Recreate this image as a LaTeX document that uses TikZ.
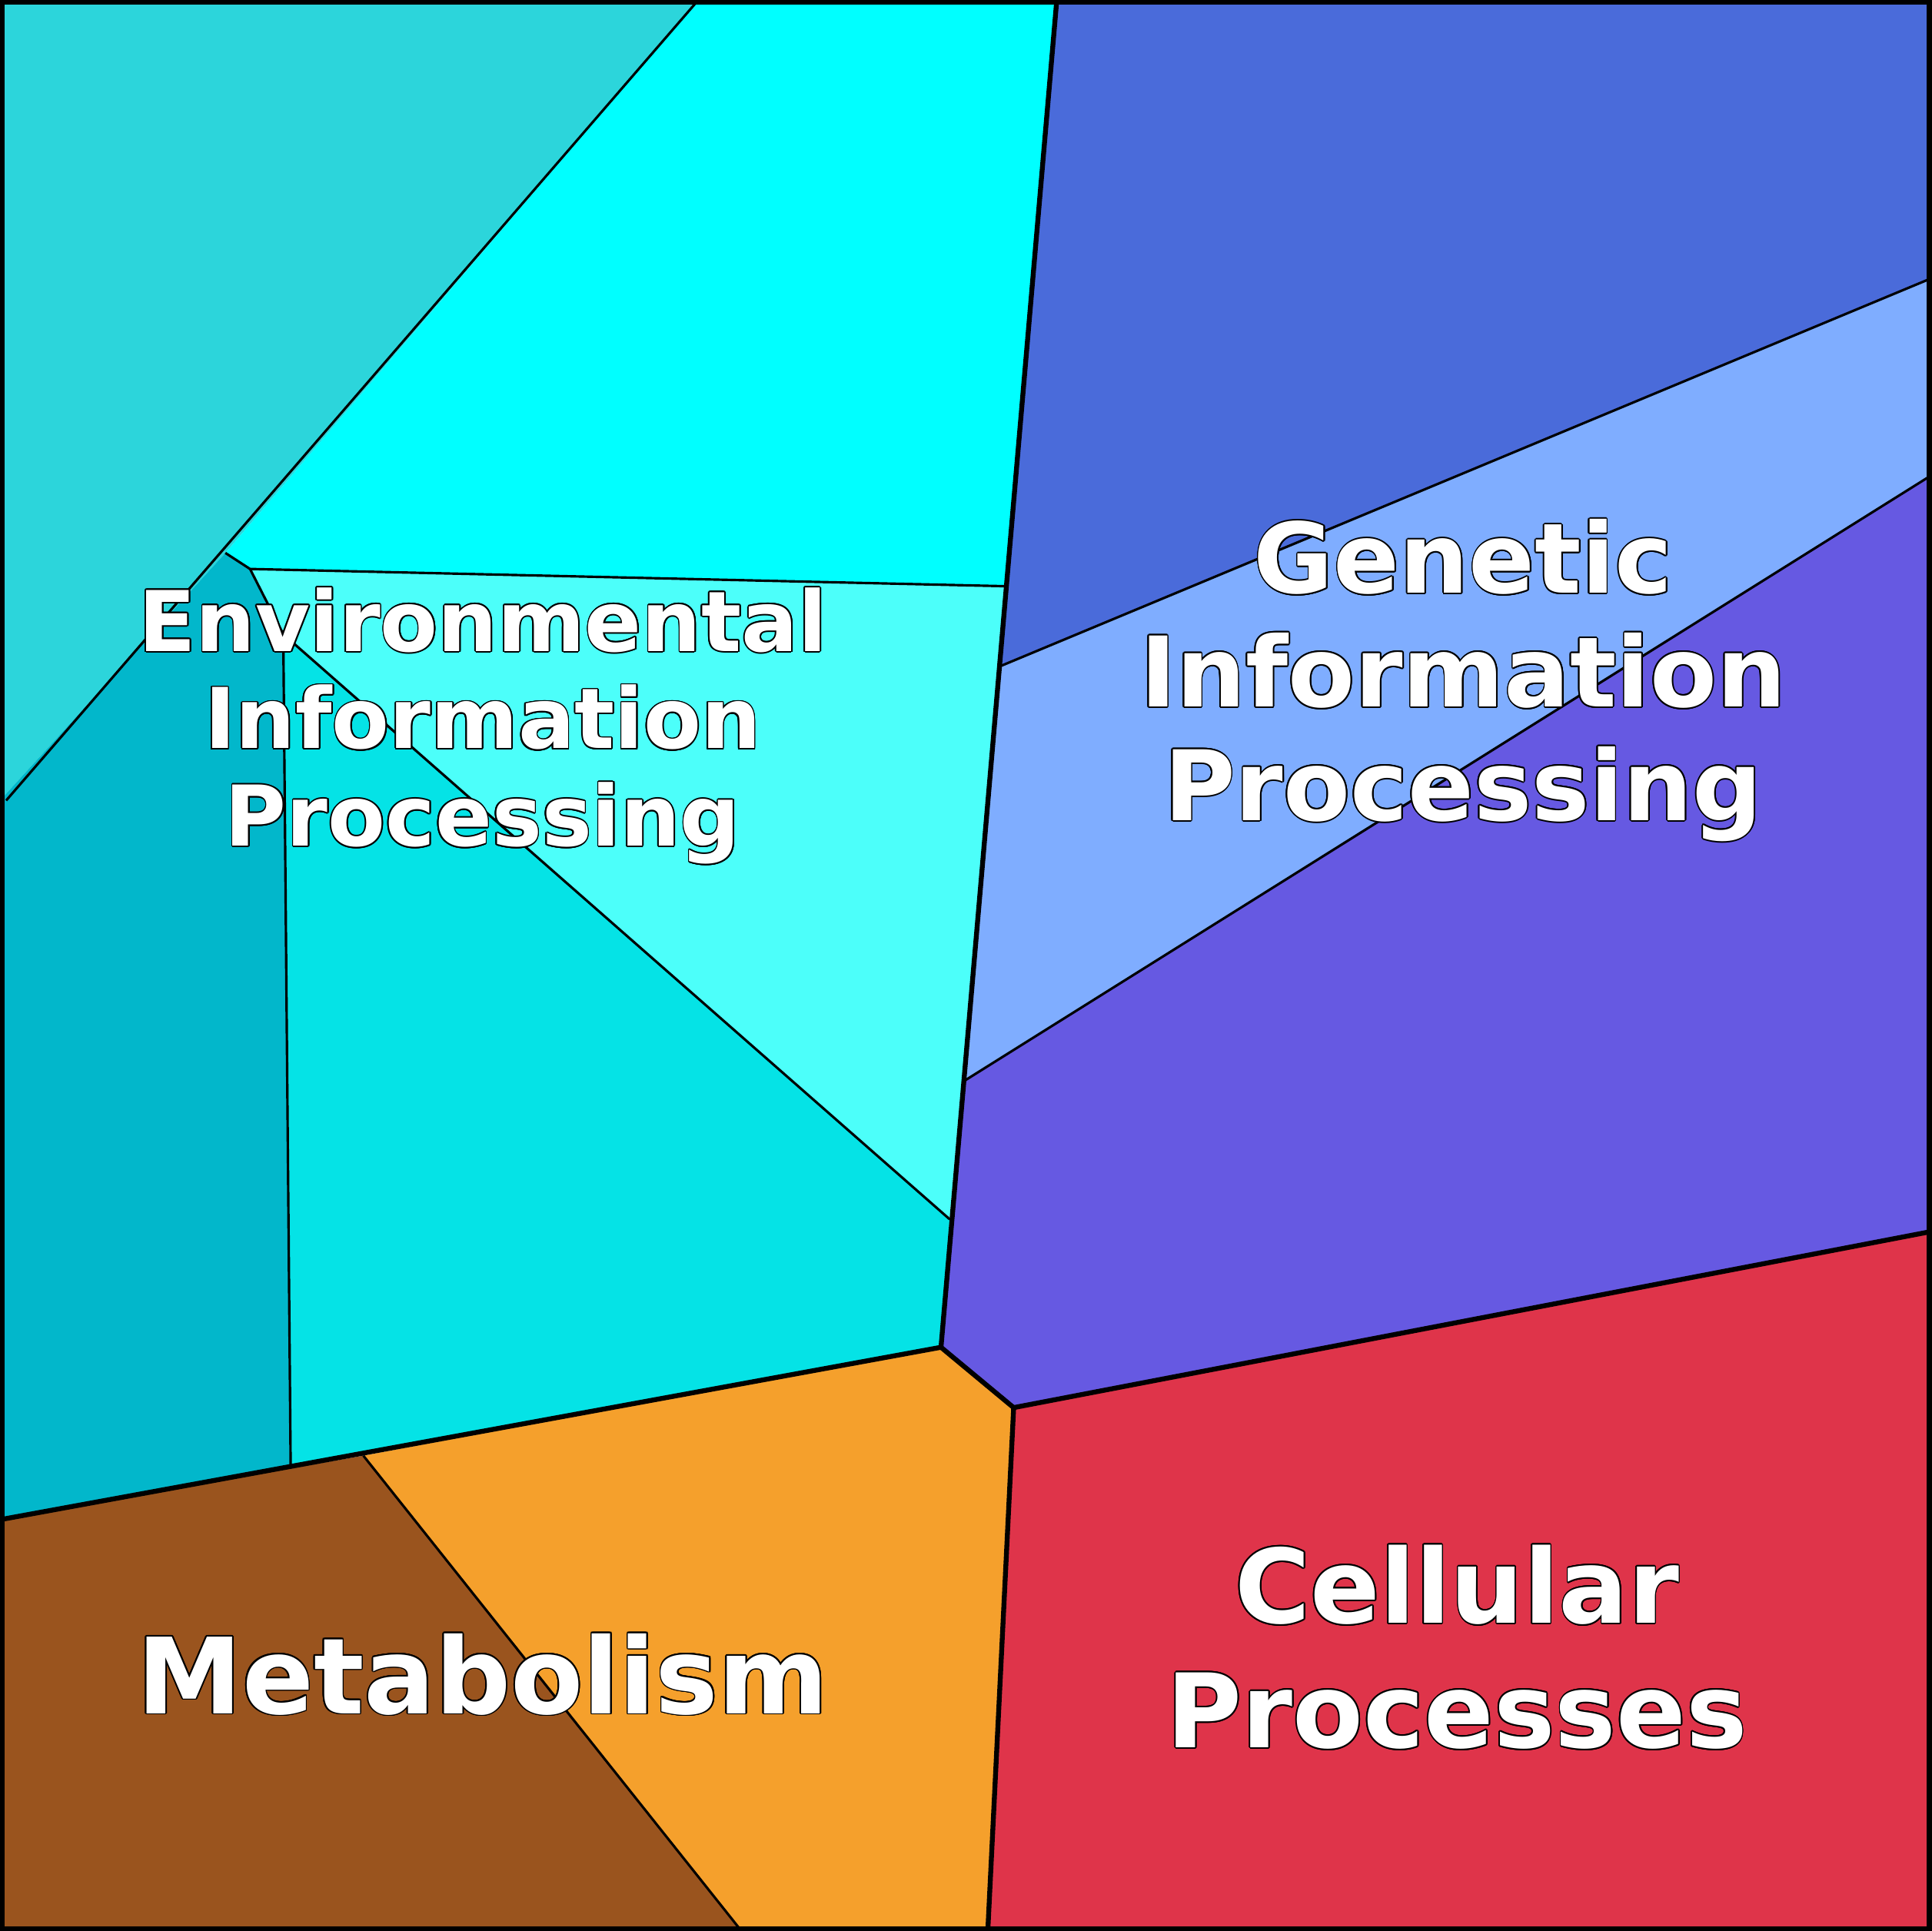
\documentclass[tikz,border=0pt]{standalone}
\usepackage{fontspec}
\setmainfont{DejaVu Sans}
\usepackage{contour}
\contourlength{0.5pt}
\definecolor{envA}{RGB}{44,213,219}
\definecolor{envB}{RGB}{0,255,255}
\definecolor{envC}{RGB}{76,255,250}
\definecolor{envD}{RGB}{2,183,203}
\definecolor{envE}{RGB}{5,227,230}
\definecolor{genA}{RGB}{74,107,218}
\definecolor{genB}{RGB}{127,173,255}
\definecolor{cellP}{RGB}{102,89,226}
\definecolor{cellR}{RGB}{223,52,74}
\definecolor{metO}{RGB}{245,160,44}
\definecolor{metB}{RGB}{154,84,30}
\tikzset{
  thinedge/.style={draw=black, line width=0.9pt},
  thickedge/.style={draw=black, line width=1.8pt},
  label/.style={text=white, font=\bfseries, align=center},
}
\newcommand{\lbl}[1]{\contour{black}{#1}}
\begin{document}
\begin{tikzpicture}[x=0.016cm, y=-0.016cm]
  \useasboundingbox (0,0) rectangle (1568,1568);
  % regions
  \fill[envA] (0,0) -- (567,0) -- (183,449) -- (0,650) -- cycle;
  \fill[envB] (567,0) -- (858,0) -- (816,476) -- (203,462) -- (183,449) -- cycle;
  \fill[envC] (203,462) -- (816,476) -- (771,990) -- (230,515) -- cycle;
  \fill[envD] (0,650) -- (183,449) -- (203,462) -- (230,515) -- (236,1191) -- (0,1234) -- cycle;
  \fill[envE] (230,515) -- (771,990) -- (764,1094) -- (236,1191) -- cycle;
  \fill[genA] (858,0) -- (1568,0) -- (1568,226) -- (812,541) -- cycle;
  \fill[genB] (812,541) -- (1568,226) -- (1568,386) -- (784,877) -- cycle;
  \fill[cellP] (784,877) -- (1568,386) -- (1568,1000) -- (823,1143) -- (764,1094) -- cycle;
  \fill[cellR] (823,1143) -- (1568,1000) -- (1568,1568) -- (802,1568) -- cycle;
  \fill[metO] (295,1182) -- (764,1094) -- (823,1143) -- (802,1568) -- (602,1568) -- cycle;
  \fill[metB] (0,1234) -- (295,1182) -- (602,1568) -- (0,1568) -- cycle;
  % thin edges
  \draw[thinedge] (567,0) -- (5,650);
  \draw[thinedge] (183,449) -- (203,462) -- (816,476);
  \draw[thinedge] (203,462) -- (230,515) -- (771,990);
  \draw[thinedge] (230,515) -- (236,1191);
  \draw[thinedge] (295,1182) -- (602,1568);
  \draw[thinedge] (812,541) -- (1568,226);
  \draw[thinedge] (784,877) -- (1568,386);
  % thick edges
  \draw[thickedge] (858,0) -- (764,1094) -- (823,1143) -- (1568,1000);
  \draw[thickedge] (0,1234) -- (764,1094);
  \draw[thickedge] (823,1143) -- (802,1568);
  \draw[draw=black, line width=3.6pt] (0,0) rectangle (1568,1568);
  % labels
  \node[label, font=\bfseries\fontsize{31}{36}\selectfont] (env) at (392,590)
    {\lbl{Environmental}\\\lbl{Information}\\\lbl{Processing}};
  \node[label, font=\bfseries\fontsize{36}{42}\selectfont] (gen) at (1188,553)
    {\lbl{Genetic}\\\lbl{Information}\\\lbl{Processing}};
  \node[label, font=\bfseries\fontsize{39}{45}\selectfont] (met) at (392,1360)
    {\lbl{Metabolism}};
  \node[label, font=\bfseries\fontsize{38}{46}\selectfont] (cell) at (1183,1338)
    {\lbl{Cellular}\\\lbl{Processes}};
\end{tikzpicture}
\end{document}
